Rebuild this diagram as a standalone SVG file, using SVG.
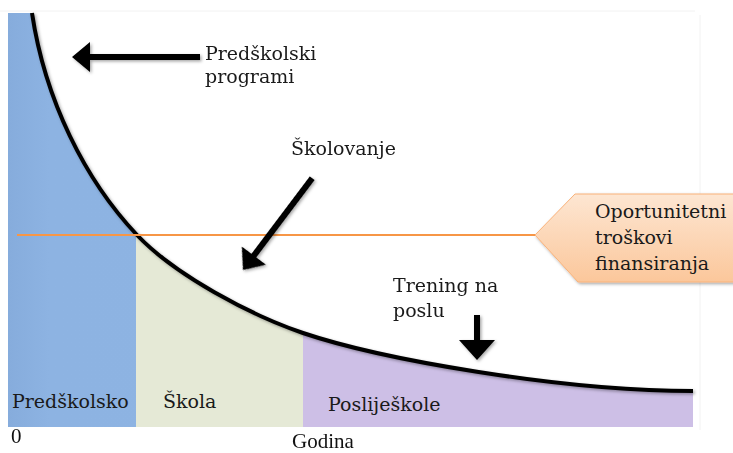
<svg xmlns="http://www.w3.org/2000/svg" width="733" height="453" viewBox="0 0 733 453">
<style>
.lbl{font-family:"DejaVu Serif","Liberation Serif",serif;font-size:19px;fill:#1a1a1a}
.ax{font-family:"Liberation Serif",serif;font-size:21px;fill:#111}
</style>
<defs>
<linearGradient id="gBlue" x1="0" y1="0" x2="1" y2="0"><stop offset="0" stop-color="#86acdc"/><stop offset="0.06" stop-color="#8db3e2"/><stop offset="1" stop-color="#8eb4e3"/></linearGradient>
<linearGradient id="gCall" x1="0" y1="0" x2="0" y2="1"><stop offset="0" stop-color="#fde6d2"/><stop offset="1" stop-color="#fbc79b"/></linearGradient>
<clipPath id="cBlue"><rect x="8" y="0" width="128" height="427"/></clipPath>
<clipPath id="cGreen"><rect x="136" y="0" width="167" height="427"/></clipPath>
<clipPath id="cPurple"><rect x="303" y="0" width="390" height="427"/></clipPath>
<path id="area" d="M8,13 L32,13 C45,100 85,180 137,235 C175,275 250,315 303,333 C380,359 560,391 693,391 L693,427 L8,427 Z"/>
<filter id="sh" x="-10%" y="-10%" width="130%" height="130%"><feDropShadow dx="1.5" dy="1.5" stdDeviation="1.5" flood-color="#000" flood-opacity="0.35"/></filter>
</defs>
<rect width="733" height="453" fill="#fff"/>
<line x1="0" y1="11" x2="695" y2="11" stroke="#f2f2f2" stroke-width="1"/>
<line x1="700" y1="15" x2="700" y2="430" stroke="#f2f2f2" stroke-width="1"/>
<g id="regions">
<g id="preskolsko"><use href="#area" clip-path="url(#cBlue)" fill="url(#gBlue)"/><text class="lbl" x="12" y="408">Predškolsko</text></g>
<g id="skola"><use href="#area" clip-path="url(#cGreen)" fill="#e5e9d6"/><text class="lbl" x="163" y="408">Škola</text></g>
<g id="poslijeskole"><use href="#area" clip-path="url(#cPurple)" fill="#cdbfe6"/><text class="lbl" x="328" y="411">Posliješkole</text></g>
</g>
<g id="curve"><path d="M32,13 C45,100 85,180 137,235 C175,275 250,315 303,333 C380,359 560,391 693,391" fill="none" stroke="#000" stroke-width="4" filter="url(#sh)"/></g>
<g id="line-oportunitetni"><line x1="17" y1="235" x2="537" y2="235" stroke="#f79646" stroke-width="2"/></g>
<g id="callout">
<path d="M535,235 L575,194 L740,194 L740,282 L578,282 Z" fill="url(#gCall)" stroke="#f9b27a" stroke-width="1" filter="url(#sh)"/>
<text class="lbl" x="595" y="218">Oportunitetni</text>
<text class="lbl" x="595" y="244">troškovi</text>
<text class="lbl" x="595" y="270">finansiranja</text>
</g>
<g id="connectors" fill="#000" filter="url(#sh)">
<path d="M200,54 L90,54 L90,42 L72,57 L90,72 L90,60 L200,60 Z"/>
<g transform="translate(243,270) rotate(-53)"><path d="M0,0 L18,-15 L18,-3 L115,-3 L115,3 L18,3 L18,15 Z"/></g>
<path d="M474,315 L480,315 L480,340 L495,340 L477,360 L459,340 L474,340 Z"/>
</g>
<g id="labels">
<text class="lbl" x="205" y="60">Predškolski</text>
<text class="lbl" x="205" y="83">programi</text>
<text class="lbl" x="291" y="155">Školovanje</text>
<text class="lbl" x="393" y="292">Trening na</text>
<text class="lbl" x="393" y="317">poslu</text>
<text class="ax" x="11" y="443">0</text>
<text class="ax" x="292" y="448">Godina</text>
</g>
</svg>
